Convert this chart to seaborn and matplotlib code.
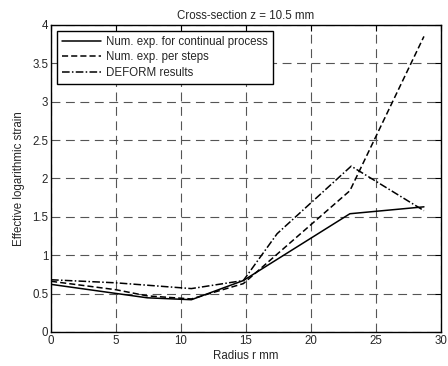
import pandas as pd
import numpy as np
import matplotlib
matplotlib.use('Agg')
import matplotlib.pyplot as plt
import seaborn as sns

# values (radius in mm, effective log. strain)
r_cont = [0, 7.4, 10.8, 14.8, 23.0, 28.7]
eps_cont = [0.62, 0.445, 0.42, 0.67, 1.54, 1.63]

r_steps = [0, 5, 7.4, 10.8, 14.8, 23.0, 28.7]
eps_steps = [0.66, 0.55, 0.47, 0.43, 0.63, 1.84, 3.85]

r_deform = [0, 5, 10.8, 14.8, 17.4, 23.1, 28.7]
eps_deform = [0.68, 0.64, 0.565, 0.67, 1.28, 2.16, 1.58]

labels = ['Num. exp. for continual process', 'Num. exp. per steps', 'DEFORM results']

sns.set_style('white')
plt.rcParams['font.family'] = ['Liberation Sans', 'DejaVu Sans']

df = pd.concat([
    pd.DataFrame({'r': r_cont, 'eps': eps_cont, 'series': labels[0]}),
    pd.DataFrame({'r': r_steps, 'eps': eps_steps, 'series': labels[1]}),
    pd.DataFrame({'r': r_deform, 'eps': eps_deform, 'series': labels[2]}),
])

fig = plt.figure(figsize=(4.48, 3.66), dpi=100)
ax = fig.add_axes([0.114, 0.093, 0.870, 0.839])

fs = 8.3
styles = ['-', (0, (4, 2)), (0, (5, 1.5, 1, 1.5))]
for lab, ls in zip(labels, styles):
    sub = df[df['series'] == lab]
    sns.lineplot(data=sub, x='r', y='eps', ax=ax, color='black', lw=1.1,
                 linestyle=ls, label=lab, sort=False)

ax.set_xlim(0, 30)
ax.set_ylim(0, 4)
ax.set_xticks(np.arange(0, 31, 5))
ax.set_yticks(np.arange(0, 4.01, 0.5))
ax.set_yticklabels(['0', '0.5', '1', '1.5', '2', '2.5', '3', '3.5', '4'])
ax.grid(True, color='#555555', linestyle=(0, (8, 5)), lw=0.8)
ax.tick_params(direction='in', length=4, labelsize=fs, top=True, right=True,
               color='black', pad=2)
for s in ax.spines.values():
    s.set_color('black')
    s.set_linewidth(1.0)

ax.set_xlabel('Radius r mm', fontsize=fs, labelpad=2)
ax.set_ylabel('Effective logarithmic strain', fontsize=fs, labelpad=5)
ax.set_title('Cross-section z = 10.5 mm', fontsize=fs, pad=4)

leg = ax.legend(loc='upper left', fontsize=fs, frameon=True, fancybox=False,
                edgecolor='black', framealpha=1, handlelength=3.4,
                borderaxespad=0.5, labelspacing=0.3, handletextpad=0.4,
                borderpad=0.45)
leg.get_frame().set_linewidth(1.0)

fig.savefig('out.png', dpi=100)
